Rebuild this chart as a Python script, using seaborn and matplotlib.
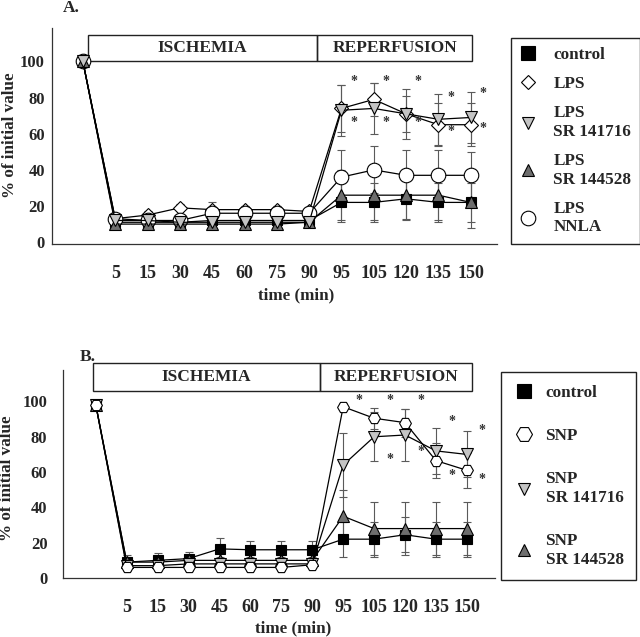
"""Ischemia / reperfusion time course, panels A and B"""
import matplotlib

matplotlib.use("Agg")
import matplotlib.pyplot as plt
import pandas as pd
import seaborn as sns
from matplotlib.lines import Line2D
from matplotlib.patches import Rectangle

times = ["", "5", "15", "30", "45", "60", "75", "90", "95", "105", "120", "135", "150"]

# panel A (LPS)
a_control = [100, 11, 11, 11, 12, 12, 12, 12, 22, 22, 24, 22, 22]
a_control_err = [0, 2, 2, 2, 2, 2, 2, 2, 11, 11, 11, 11, 11]
a_lps = [100, 13, 15, 19, 18, 18, 18, 17, 74, 79, 71, 65, 65]
a_lps_err = [0, 2, 2, 2, 4, 2, 2, 2, 13, 9, 10, 12, 12]
a_sr141716 = [100, 12, 12, 11, 11, 11, 11, 11, 73, 74, 71, 68, 69]
a_sr141716_err = [0, 2, 2, 2, 2, 2, 2, 2, 14, 14, 14, 14, 14]
a_sr144528 = [100, 10, 10, 10, 10, 10, 10, 11, 26, 26, 26, 26, 22]
a_sr144528_err = [0, 2, 2, 2, 2, 2, 2, 2, 14, 14, 14, 14, 14]
a_nnla = [100, 13, 12, 12, 16, 16, 16, 16, 36, 40, 37, 37, 37]
a_nnla_err = [0, 2, 2, 2, 2, 2, 2, 2, 15, 13, 14, 14, 13]
a_star_hi = [89, 89, 89, 80, 82]
a_star_lo = [66, 66, 66, 61, 63]

# panel B (SNP)
b_control = [98, 9, 10, 11, 16.5, 16, 16, 16, 22, 22, 24.5, 22, 22]
b_control_err = [0, 4, 4, 4, 6, 5, 5, 5, 10, 10, 10, 10, 10]
b_snp = [98, 6, 6, 6, 6, 6, 6, 7.5, 97, 90.5, 88, 66.5, 61]
b_snp_err = [0, 2, 2, 2, 2, 2, 2, 2, 2, 6, 8, 10, 10]
b_sr141716 = [98, 7, 7, 8, 8, 8, 8, 8, 64, 80, 81, 72, 70]
b_sr141716_err = [0, 2, 2, 2, 2, 2, 2, 2, 18, 14, 15, 13, 13]
b_sr144528 = [98, 9, 9, 10, 10, 10, 10, 10, 35, 28, 28, 28, 28]
b_sr144528_err = [0, 2, 2, 2, 2, 2, 2, 2, 15, 15, 15, 15, 15]
b_star_hi = [100.5, 100.5, 100.5, 88.6, 83.5]
b_star_lo = [None, 67, 71.6, 58, 56]

sns.set_theme(style="white")
plt.rcParams["font.family"] = ["Liberation Serif", "DejaVu Serif"]
plt.rcParams["font.weight"] = "bold"

EDGE = "black"
ERR = "#5a5a5a"


def make_frame(series):
    """Long-form frame from (name, values, errors) tuples"""
    rows = []
    for name, values, errs in series:
        for pos, (val, err) in enumerate(zip(values, errs)):
            rows.append({"group": name, "pos": pos, "value": val, "err": err})
    return pd.DataFrame(rows)


def draw_panel(ax, df, styles):
    """Lines, markers and error bars for every group"""
    for name, (marker, size, fill) in styles.items():
        sub = df[df["group"] == name]
        ax.errorbar(sub["pos"], sub["value"], yerr=sub["err"], fmt="none",
                    ecolor=ERR, elinewidth=0.8, capsize=3, capthick=0.8, zorder=1)
        sns.lineplot(data=sub, x="pos", y="value", ax=ax, color="black",
                     linewidth=0.9, marker=marker, markersize=size,
                     markerfacecolor=fill, markeredgecolor=EDGE,
                     markeredgewidth=0.8, zorder=3)


def style_axes(ax, ylim, xlim, xpad, ypad):
    ax.set_xlim(*xlim)
    ax.set_ylim(*ylim)
    ax.set_xticks(range(1, len(times)))
    ax.set_xticklabels(times[1:], fontsize=13, fontweight="bold")
    ax.set_yticks([0, 20, 40, 60, 80, 100])
    ax.set_yticklabels(["0", "20", "40", "60", "80", "100"], fontsize=12, fontweight="bold")
    ax.tick_params(axis="x", direction="out", length=3, width=0.8, pad=xpad, color="#444")
    ax.tick_params(axis="y", direction="out", length=3, width=0.8, pad=ypad, color="#444")
    ax.set_xlabel("")
    ax.set_ylabel("")
    for side in ["top", "right"]:
        ax.spines[side].set_visible(False)
    for side in ["left", "bottom"]:
        ax.spines[side].set_color("#333")
        ax.spines[side].set_linewidth(0.9)
    ax.patch.set_alpha(0)


def phase_boxes(ax, x0, xmid, x1, y0, y1):
    for left, right, label in [(x0, xmid, "ISCHEMIA"), (xmid, x1, "REPERFUSION")]:
        ax.add_patch(Rectangle((left, y0), right - left, y1 - y0, fill=False,
                               edgecolor="#222", linewidth=1.0, clip_on=False))
        ax.text((left + right) / 2, (y0 + y1) / 2, label, ha="center", va="center",
                fontsize=12.5, fontweight="bold", clip_on=False)


def stars(ax, hi, lo, dx):
    for i, (h, l) in enumerate(zip(hi, lo)):
        pos = 8 + i + dx
        for y in (h, l):
            if y is not None:
                ax.text(pos, y, "*", ha="center", va="center", fontsize=10,
                        color="#333")


def legend_box(ax, styles, order, anchor, spacing, hlen, tpad, bigger, bpad=0.5):
    handles = [Line2D([], [], linestyle="none", marker=styles[k][0],
                      markersize=styles[k][1] + (3 if k in bigger else 0),
                      markerfacecolor=styles[k][2], markeredgecolor=EDGE,
                      markeredgewidth=0.8) for k in order]
    leg = ax.legend(handles, order, loc="upper left", bbox_to_anchor=anchor,
                    bbox_transform=fig.transFigure, borderaxespad=0,
                    frameon=True, fancybox=False, framealpha=1, edgecolor="#222",
                    prop={"size": 12.3, "weight": "bold"}, labelspacing=spacing,
                    handletextpad=tpad, borderpad=bpad, handlelength=hlen)
    leg.get_frame().set_linewidth(1.0)
    return leg


fig = plt.figure(figsize=(6.4, 6.37), dpi=100)

# ---- panel A
ax_a = fig.add_axes([0.081, 0.617, 0.695, 0.339])
styles_a = {
    "control": ("s", 6.5, "black"),
    "LPS": ("D", 7.5, "white"),
    "LPS\nNNLA": ("o", 10.5, "white"),
    "LPS\nSR 144528": ("^", 9, "#6e6e6e"),
    "LPS\nSR 141716": ("v", 9, "#c4c4c4"),
}
df_a = make_frame([
    ("control", a_control, a_control_err),
    ("LPS", a_lps, a_lps_err),
    ("LPS\nSR 141716", a_sr141716, a_sr141716_err),
    ("LPS\nSR 144528", a_sr144528, a_sr144528_err),
    ("LPS\nNNLA", a_nnla, a_nnla_err),
])
draw_panel(ax_a, df_a, styles_a)
style_axes(ax_a, (-1, 118.5), (-0.96, 12.8), 12, 2)
phase_boxes(ax_a, 0.15, 7.25, 12.05, 100, 114.5)
stars(ax_a, a_star_hi, a_star_lo, 0.38)
fig.text(0.098, 0.987, "A.", fontsize=12.5, fontweight="bold", va="center")
fig.text(0.015, 0.788, "% of initial value", rotation=90, fontsize=12.3,
         fontweight="bold", ha="center", va="center")
fig.text(0.463, 0.537, "time (min)", fontsize=12.3, fontweight="bold",
         ha="center", va="center")
legend_box(ax_a, styles_a,
           ["control", "LPS", "LPS\nSR 141716", "LPS\nSR 144528", "LPS\nNNLA"],
           (0.798, 0.940), 0.78, 1.0, 1.0, ("control",))

# ---- panel B
ax_b = fig.add_axes([0.098, 0.0926, 0.675, 0.3265])
styles_b = {
    "control": ("s", 7, "black"),
    "SNP\nSR 144528": ("^", 9, "#6e6e6e"),
    "SNP\nSR 141716": ("v", 9, "#c4c4c4"),
    "SNP": ("H", 8.5, "white"),
}
df_b = make_frame([
    ("control", b_control, b_control_err),
    ("SNP", b_snp, b_snp_err),
    ("SNP\nSR 141716", b_sr141716, b_sr141716_err),
    ("SNP\nSR 144528", b_sr144528, b_sr144528_err),
])
draw_panel(ax_b, df_b, styles_b)
style_axes(ax_b, (0, 117.8), (-1.07, 12.9), 12, 8)
phase_boxes(ax_b, -0.1, 7.25, 12.17, 106, 122)
stars(ax_b, b_star_hi, b_star_lo, 0.5)
fig.text(0.125, 0.44, "B.", fontsize=12.5, fontweight="bold", va="center")
fig.text(0.011, 0.25, "% of initial value", rotation=90, fontsize=12.3,
         fontweight="bold", ha="center", va="center")
fig.text(0.458, 0.014, "time (min)", fontsize=12.3, fontweight="bold",
         ha="center", va="center")
legend_box(ax_b, styles_b,
           ["control", "SNP", "SNP\nSR 141716", "SNP\nSR 144528"],
           (0.783, 0.416), 1.6, 1.2, 0.65, ("control", "SNP"), bpad=0.75)

fig.savefig("out.png", dpi=100)
